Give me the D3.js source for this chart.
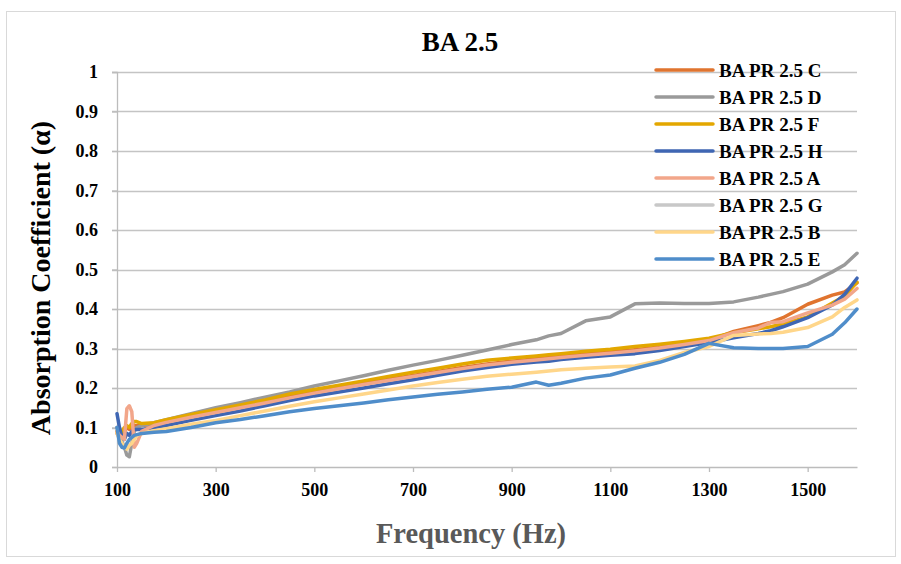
<!DOCTYPE html>
<html>
<head>
    <title>BA 2.5</title>
    <style type="text/css">
        body { margin: 0; background: #fff; }
        svg text { font-family: "Liberation Serif", "Times New Roman", serif; font-weight: bold; }
        .grid line { stroke: #c4c4c4; stroke-width: 1.3; }
        .axis path, .axis line { stroke: #bcbcbc; stroke-width: 1.3; }
        .axis text { font-size: 18px; fill: #000; font-family: "Liberation Serif", "Times New Roman", serif; }
        .series { fill: none; stroke-width: 3.5; stroke-linejoin: round; stroke-linecap: round; }
    </style>
</head>
<body>
<script src="https://d3js.org/d3.v7.min.js" type="text/javascript"></script>
<script type="text/javascript">

    var freqs = [100, 105, 110, 115, 120, 125, 130, 135, 140, 150, 175, 200, 250, 300, 350, 400, 450, 500,
        550, 600, 650, 700, 750, 800, 850, 900, 950, 975, 1000, 1050, 1100, 1150, 1200, 1250, 1300,
        1350, 1400, 1425, 1450, 1500, 1550, 1575, 1600];

    var seriesNames = ['BA PR 2.5 C', 'BA PR 2.5 D', 'BA PR 2.5 F', 'BA PR 2.5 H',
        'BA PR 2.5 A', 'BA PR 2.5 G', 'BA PR 2.5 B', 'BA PR 2.5 E'];
    var seriesColors = ['#e0742f', '#9a9a9a', '#e3a700', '#3f66b3', '#f2a68a', '#c8c8c8', '#ffd68a', '#4f8dca'];

    var valsC = [0.085, 0.075, 0.08, 0.09, 0.1, 0.095, 0.1, 0.105, 0.105, 0.105, 0.108, 0.115, 0.128, 0.14, 0.152, 0.165, 0.178, 0.19,
        0.201, 0.212, 0.222, 0.232, 0.242, 0.252, 0.261, 0.268, 0.274, 0.277, 0.28, 0.286, 0.291, 0.297, 0.304, 0.312, 0.32,
        0.343, 0.358, 0.366, 0.378, 0.412, 0.435, 0.443, 0.466];
    var valsD = [0.1, 0.08, 0.065, 0.05, 0.03, 0.026, 0.06, 0.09, 0.1, 0.105, 0.112, 0.12, 0.135, 0.15, 0.163, 0.177, 0.19, 0.205,
        0.218, 0.231, 0.245, 0.258, 0.27, 0.283, 0.296, 0.31, 0.322, 0.332, 0.338, 0.37, 0.38, 0.413, 0.415, 0.414, 0.414,
        0.418, 0.43, 0.437, 0.444, 0.463, 0.494, 0.512, 0.541];
    var valsF = [0.09, 0.08, 0.09, 0.1, 0.105, 0.1, 0.11, 0.115, 0.115, 0.11, 0.112, 0.12, 0.133, 0.145, 0.157, 0.17, 0.185, 0.196,
        0.207, 0.218, 0.229, 0.24, 0.25, 0.261, 0.27, 0.276, 0.281, 0.284, 0.287, 0.293, 0.298, 0.305, 0.311, 0.318, 0.326,
        0.34, 0.35, 0.355, 0.362, 0.38, 0.415, 0.433, 0.468];
    var valsH = [0.135, 0.1, 0.075, 0.07, 0.085, 0.08, 0.09, 0.095, 0.095, 0.095, 0.1, 0.105, 0.118, 0.13, 0.142, 0.155, 0.168, 0.18,
        0.19, 0.2, 0.211, 0.221, 0.232, 0.243, 0.252, 0.26, 0.266, 0.268, 0.272, 0.278, 0.283, 0.287, 0.295, 0.305, 0.315,
        0.327, 0.338, 0.345, 0.355, 0.378, 0.41, 0.437, 0.478];
    var valsA = [0.09, 0.08, 0.075, 0.07, 0.148, 0.155, 0.14, 0.05, 0.06, 0.09, 0.105, 0.113, 0.126, 0.138, 0.15, 0.162, 0.175, 0.187,
        0.198, 0.209, 0.219, 0.229, 0.239, 0.249, 0.258, 0.265, 0.271, 0.274, 0.277, 0.283, 0.288, 0.294, 0.301, 0.31, 0.32,
        0.34, 0.352, 0.366, 0.368, 0.39, 0.41, 0.425, 0.452];
    var valsG = []; // not visible in the chart
    var valsB = [0.085, 0.07, 0.06, 0.05, 0.045, 0.055, 0.06, 0.07, 0.08, 0.085, 0.092, 0.097, 0.108, 0.118, 0.13, 0.142, 0.154, 0.165,
        0.175, 0.185, 0.195, 0.205, 0.214, 0.222, 0.23, 0.235, 0.24, 0.243, 0.246, 0.25, 0.253, 0.256, 0.27, 0.29, 0.305,
        0.333, 0.337, 0.338, 0.341, 0.353, 0.38, 0.404, 0.423];
    var valsE = [0.1, 0.06, 0.05, 0.048, 0.06, 0.07, 0.075, 0.08, 0.082, 0.085, 0.088, 0.09, 0.1, 0.112, 0.12, 0.13, 0.14, 0.148,
        0.155, 0.162, 0.17, 0.177, 0.184, 0.19, 0.197, 0.202, 0.215, 0.207, 0.212, 0.225, 0.233, 0.25, 0.265, 0.285, 0.313,
        0.302, 0.3, 0.3, 0.3, 0.305, 0.336, 0.365, 0.4];

    var seriesValues = [valsC, valsD, valsF, valsH, valsA, valsG, valsB, valsE];

    var xTicks = [100, 300, 500, 700, 900, 1100, 1300, 1500];
    var yTicks = [0, 0.1, 0.2, 0.3, 0.4, 0.5, 0.6, 0.7, 0.8, 0.9, 1];

    var W = 901, H = 564;
    var svg = d3.select('body').append('svg')
        .attr('width', W)
        .attr('height', H);

    // outer chart frame
    svg.append('rect')
        .attr('x', 6.5).attr('y', 11.5)
        .attr('width', 889).attr('height', 545)
        .attr('fill', '#fff')
        .attr('stroke', '#d9d9d9');

    var x = d3.scaleLinear().domain([100, 1600]).range([117, 857]);
    var y = d3.scaleLinear().domain([0, 1]).range([467, 72]);

    // horizontal gridlines (start a little left of the axis, like Excel ticks)
    svg.append('g').attr('class', 'grid')
        .selectAll('line')
        .data(yTicks.slice(1))
        .join('line')
        .attr('x1', x(100) - 5)
        .attr('x2', x(1600))
        .attr('y1', function (d) { return Math.round(y(d)) + 0.5; })
        .attr('y2', function (d) { return Math.round(y(d)) + 0.5; });

    svg.append('g').attr('class', 'axis')
        .attr('transform', 'translate(' + x(100) + ',0)')
        .call(d3.axisLeft(y).tickValues(yTicks).tickSize(5).tickPadding(14)
            .tickFormat(function (d) { return d3.format('~g')(d); }));

    var xAxis = svg.append('g').attr('class', 'axis')
        .attr('transform', 'translate(0,' + y(0) + ')')
        .call(d3.axisBottom(x).tickValues(xTicks).tickSizeInner(5).tickSizeOuter(0).tickPadding(9)
            .tickFormat(d3.format('d')));
    xAxis.selectAll('text').attr('dy', '0.85em');

    var line = d3.line()
        .x(function (d) { return x(d[0]); })
        .y(function (d) { return y(d[1]); });

    seriesNames.forEach(function (name, i) {
        var pts = seriesValues[i].map(function (v, j) { return [freqs[j], v]; });
        if (!pts.length) return;
        svg.append('path')
            .attr('class', 'series')
            .attr('stroke', seriesColors[i])
            .attr('d', line(pts));
    });

    // legend
    var legend = svg.append('g').selectAll('g')
        .data(seriesNames)
        .join('g')
        .attr('transform', function (d, i) { return 'translate(656,' + (70 + i * 27) + ')'; });
    legend.append('line')
        .attr('x1', 0).attr('x2', 57)
        .attr('stroke', function (d, i) { return seriesColors[i]; })
        .attr('stroke-width', 3.5)
        .attr('stroke-linecap', 'round');
    legend.append('text')
        .attr('x', 63).attr('y', 6.5)
        .style('font-size', '19px')
        .text(function (d) { return d; });

    // title and axis titles
    svg.append('text')
        .attr('x', 460).attr('y', 51)
        .attr('text-anchor', 'middle')
        .style('font-size', '27px')
        .text('BA 2.5');

    svg.append('text')
        .attr('transform', 'translate(50,' + 278 + ') rotate(-90)')
        .attr('text-anchor', 'middle')
        .style('font-size', '28px')
        .text('Absorption Coefficient (α)');

    svg.append('text')
        .attr('x', 471).attr('y', 543)
        .attr('text-anchor', 'middle')
        .style('font-size', '28.5px')
        .attr('fill', '#595959')
        .text('Frequency (Hz)');
</script>
</body>
</html>
